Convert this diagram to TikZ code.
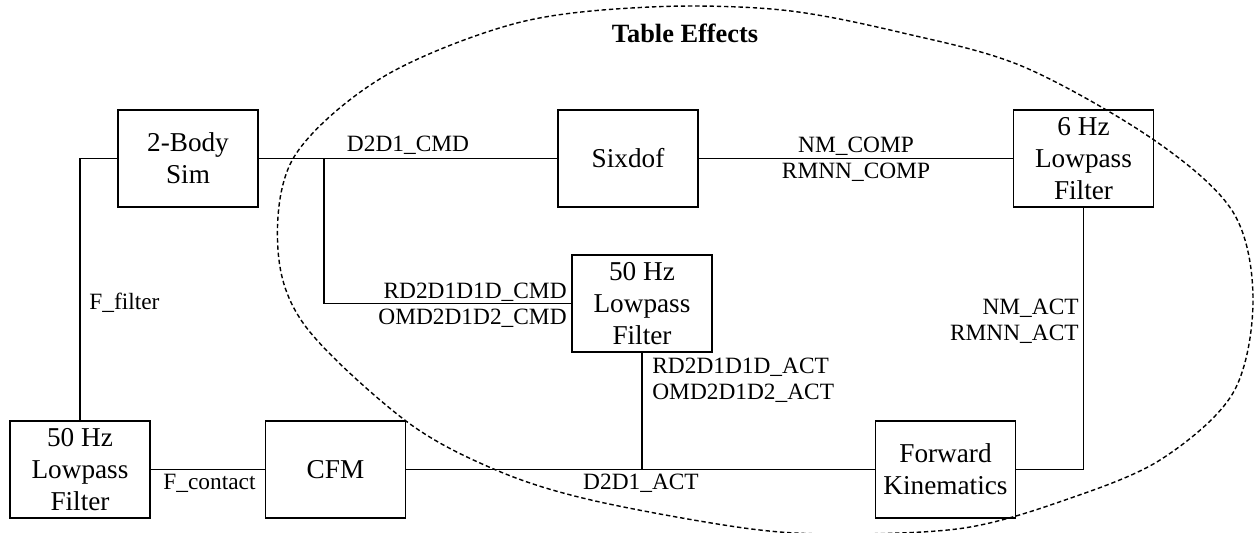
\documentclass[tikz,border=0pt]{standalone}
\usepackage{fontspec}
\setmainfont{Liberation Serif}
\begin{document}
\begin{tikzpicture}[x=0.02cm, y=-0.02cm,
  blk/.style={draw, line width=0.9pt, minimum width=2.8cm, minimum height=1.94cm, inner sep=0pt, align=center, font=\fontsize{15.5}{18.4}\selectfont},
  lbl/.style={inner sep=0pt, font=\fontsize{13.3}{14.8}\selectfont},
  wire/.style={line width=0.9pt},
  region/.style={line width=0.8pt, dash pattern=on 2.5pt off 1.6pt}]
\useasboundingbox (0,0) rectangle (1254,532);
% dashed region
\draw[region] plot[smooth cycle, tension=0.55] coordinates {
 (650,7) (782,10) (903,33) (1024,67) (1154,140) (1233,212) (1253,300)
 (1233,393) (1160,460) (1065,500) (964,528) (840,534) (744,528) (591,500)
 (496,470) (406,421) (306,327) (278,250) (294,157) (383,77) (517,23)};
\node[font=\bfseries\fontsize{15}{18}\selectfont, inner sep=0pt] (title) at (685,33) {Table Effects};
% blocks
\node[blk] (body)   at (188,158.5)  {2-Body\\Sim};
\node[blk] (sixdof) at (628,158.5)  {Sixdof};
\node[blk] (six)    at (1083.5,158.5) {6 Hz\\Lowpass\\Filter};
\node[blk] (mid)    at (642,303.5)  {50 Hz\\Lowpass\\Filter};
\node[blk] (lft)    at (80,469.5)   {50 Hz\\Lowpass\\Filter};
\node[blk] (cfm)    at (335.5,469.5){CFM};
\node[blk] (fk)     at (945.5,469.5){Forward\\Kinematics};
% connectors
\coordinate (j1) at (324,158.5);
\draw[wire] (body.east) -- (sixdof.west);
\draw[wire] (sixdof.east) -- (six.west);
\draw[wire] (j1) |- (mid.west);
\draw[wire] (six.south) |- (fk.east);
\draw[wire] (cfm.east) -- (fk.west);
\draw[wire] (mid.south) -- (mid.south |- cfm.east);
\draw[wire] (lft.east) -- (cfm.west);
\draw[wire] (lft.north) |- (body.west);
% labels
\node[lbl] (l1) at (408,145) {D2D1\_CMD};
\node[lbl, align=center] (l2) at (856,159) {NM\_COMP\\RMNN\_COMP};
\node[lbl, align=right, anchor=east] (l3) at (567,305) {RD2D1D1D\_CMD\\OMD2D1D2\_CMD};
\node[lbl, anchor=west] (l4) at (89,303) {F\_filter};
\node[lbl] (l5) at (209.5,483) {F\_contact};
\node[lbl] (l6) at (641,483) {D2D1\_ACT};
\node[lbl, align=left, anchor=west] (l7) at (652,380) {RD2D1D1D\_ACT\\OMD2D1D2\_ACT};
\node[lbl, align=right, anchor=east] (l8) at (1079,321) {NM\_ACT\\RMNN\_ACT};
\end{tikzpicture}
\end{document}
